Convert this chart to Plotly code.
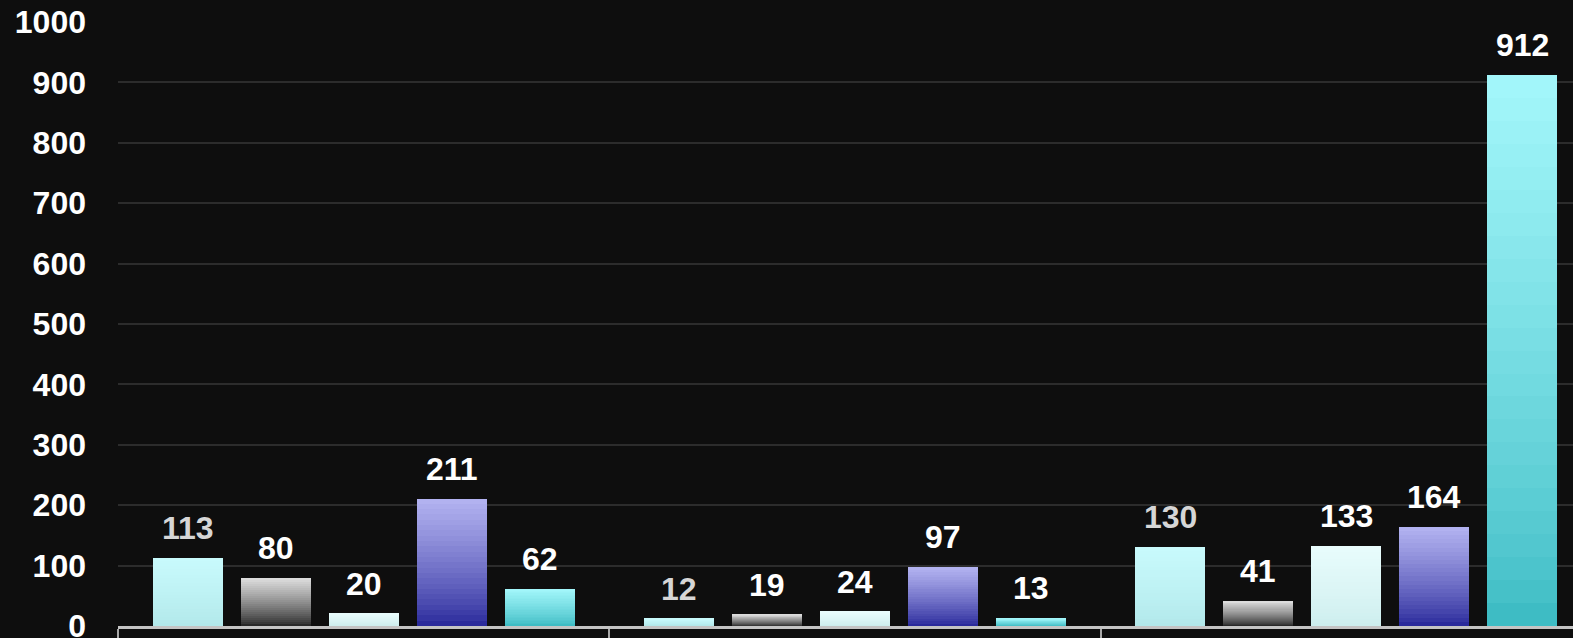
import plotly.graph_objects as go

# ---- data ----
categories = ["Group 1", "Group 2", "Group 3"]
series_names = ["Series 1", "Series 2", "Series 3", "Series 4", "Series 5"]
s1 = [113, 12, 130]
s2 = [80, 19, 41]
s3 = [20, 24, 133]
s4 = [211, 97, 164]
s5 = [62, 13, 912]
y_ticks = [0, 100, 200, 300, 400, 500, 600, 700, 800, 900, 1000]

series = [s1, s2, s3, s4, s5]
# (bottom colour, top colour) for vertical gradients
grad = [
    ((178, 232, 234), (200, 250, 252)),
    ((40, 40, 40), (220, 220, 220)),
    ((205, 238, 238), (232, 252, 252)),
    ((42, 42, 155), (178, 178, 240)),
    ((62, 188, 196), (162, 246, 250)),
]
label_colors = ["#d6d6d6", "#ffffff", "#ffffff", "#ffffff", "#ffffff"]

BG = "#0e0e0e"
slot = 88 / 491
bar_w = 70 / 491
N = 24

fig = go.Figure()
annotations = []
gx = list(range(len(categories)))
for i, vals in enumerate(series):
    off = (i - 2) * slot
    xs = [g + off for g in gx]
    (b0, b1) = grad[i]
    for k in range(N):
        t = k / (N - 1)
        t2 = t ** 0.8
        c = tuple(int(round(b0[j] + (b1[j] - b0[j]) * t2)) for j in range(3))
        fig.add_trace(go.Bar(
            x=xs,
            base=[v * k / N for v in vals],
            y=[v * (1 - k / N) for v in vals],
            width=bar_w,
            marker=dict(color="rgb(%d,%d,%d)" % c, line=dict(width=0)),
            name=series_names[i],
            showlegend=False,
            hoverinfo="skip" if k else "y",
        ))
    for x, v in zip(xs, vals):
        annotations.append(dict(
            x=x, y=v, xref="x", yref="y", text=str(v), showarrow=False,
            yanchor="middle", yshift=30,
            font=dict(family="Liberation Sans, Arial", size=32, color=label_colors[i], weight="bold"),
        ))

fig.update_layout(
    width=1573, height=638,
    margin=dict(l=118, r=0, t=22, b=12),
    paper_bgcolor=BG, plot_bgcolor=BG,
    barmode="overlay",
    bargap=0,
    annotations=annotations,
    showlegend=False,
)
fig.update_xaxes(
    automargin=False,
    range=[-0.5, 2.5 - 19 / 491],
    tickvals=[-0.5, 0.5, 1.5],
    ticktext=["", "", ""],
    showticklabels=False,
    ticks="outside", ticklen=20, tickwidth=2, tickcolor="#a8a8a8",
    showgrid=False, zeroline=False,
    showline=True, linecolor="#c4c4c4", linewidth=3,
)
fig.update_yaxes(
    automargin=False,
    range=[0, 1000],
    tickvals=y_ticks,
    showgrid=True, gridcolor="#2c2c2c", gridwidth=2,
    zeroline=False, showline=False,
    ticks="", ticklabelstandoff=31,
    ticklabeloverflow="allow",
    tickfont=dict(family="Liberation Sans, Arial", size=32, color="#ffffff", weight="bold"),
)

fig.write_html(
    "out.html",
    config={"displayModeBar": False},
    post_script="document.body.style.margin='0';document.body.style.overflow='hidden';"
                "document.body.style.background='#0e0e0e';",
)
